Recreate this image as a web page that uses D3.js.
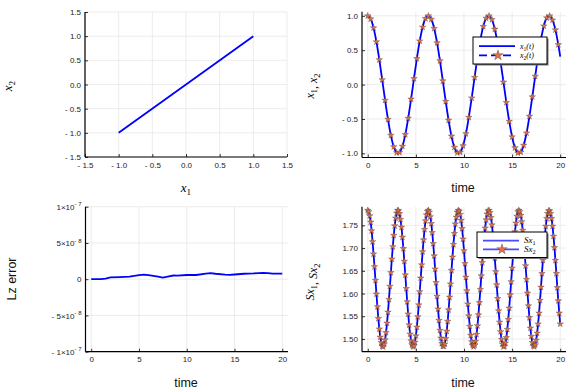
<!DOCTYPE html>
<html>
<head>
<meta charset="utf-8">
<script src="https://cdn.jsdelivr.net/npm/d3@7"></script>
<style>
  body { margin: 0; background: #fff; }
  svg text { font-family: "Liberation Sans", Arial, sans-serif; }
  .tick text { fill: #222; font-size: 8px; }
  .math { font-family: "Liberation Serif", "DejaVu Serif", serif; font-style: italic; }
</style>
</head>
<body>
<div id="chart"></div>
<script>
// ---- data ----

// top left: x2 against x1
var phaseX = [-1, 1];
var phaseY = [-1, 1];

// top right: x1(t) line and x2(t) stars (the two curves lie on top of each other)
var tX = [0, 0.3, 0.6, 0.9, 1.2, 1.5, 1.8, 2.1, 2.4, 2.7, 3.0, 3.3, 3.6, 3.9, 4.2, 4.5, 4.8, 5.1, 5.4, 5.7,
  6.0, 6.3, 6.6, 6.9, 7.2, 7.5, 7.8, 8.1, 8.4, 8.7, 9.0, 9.3, 9.6, 9.9, 10.2, 10.5, 10.8, 11.1, 11.4, 11.7,
  12.0, 12.3, 12.6, 12.9, 13.2, 13.5, 13.8, 14.1, 14.4, 14.7, 15.0, 15.3, 15.6, 15.9, 16.2, 16.5, 16.8, 17.1,
  17.4, 17.7, 18.0, 18.3, 18.6, 18.9, 19.2, 19.5, 19.8, 20];
var x1 = [1.000, 0.955, 0.825, 0.622, 0.362, 0.071, -0.227, -0.505, -0.737, -0.904,
  -0.990, -0.987, -0.897, -0.726, -0.490, -0.211, 0.087, 0.378, 0.635, 0.835,
  0.960, 1.000, 0.950, 0.816, 0.608, 0.347, 0.054, -0.244, -0.519, -0.749,
  -0.911, -0.992, -0.985, -0.889, -0.714, -0.476, -0.194, 0.104, 0.394, 0.648,
  0.844, 0.965, 0.999, 0.945, 0.806, 0.595, 0.331, 0.037, -0.260, -0.534,
  -0.760, -0.918, -0.994, -0.982, -0.882, -0.703, -0.461, -0.178, 0.121, 0.409,
  0.661, 0.853, 0.970, 0.999, 0.939, 0.796, 0.581, 0.408];
// stars stop at t = 19.8
var x2 = x1.slice(0, 67);

// bottom left: Lz error
var tLz = [0, 1, 1.5, 2, 3, 4, 5, 5.5, 6, 7, 7.5, 8, 8.6, 9, 10, 11, 12, 12.5, 13, 14, 14.5, 15, 16, 17, 18, 18.5, 19, 20];
var lzErr = [0, 0.2e-9, 0.8e-9, 2.5e-9, 3.0e-9, 3.5e-9, 5.5e-9, 6.4e-9, 5.5e-9, 3.5e-9,
  2.3e-9, 3.5e-9, 5.1e-9, 5.0e-9, 5.8e-9, 5.8e-9, 7.8e-9, 8.3e-9, 7.5e-9, 6.3e-9,
  6.0e-9, 6.5e-9, 7.5e-9, 8.0e-9, 8.8e-9, 8.5e-9, 7.8e-9, 7.8e-9];

// bottom right: Sx1 line and Sx2 stars, every 0.1 time units
var tSx = [0, 0.1, 0.2, 0.3, 0.4, 0.5, 0.6, 0.7, 0.8, 0.9, 1, 1.1, 1.2, 1.3, 1.4, 1.5, 1.6, 1.7, 1.8, 1.9,
  2, 2.1, 2.2, 2.3, 2.4, 2.5, 2.6, 2.7, 2.8, 2.9, 3, 3.1, 3.2, 3.3, 3.4, 3.5, 3.6, 3.7, 3.8, 3.9,
  4, 4.1, 4.2, 4.3, 4.4, 4.5, 4.6, 4.7, 4.8, 4.9, 5, 5.1, 5.2, 5.3, 5.4, 5.5, 5.6, 5.7, 5.8, 5.9,
  6, 6.1, 6.2, 6.3, 6.4, 6.5, 6.6, 6.7, 6.8, 6.9, 7, 7.1, 7.2, 7.3, 7.4, 7.5, 7.6, 7.7, 7.8, 7.9,
  8, 8.1, 8.2, 8.3, 8.4, 8.5, 8.6, 8.7, 8.8, 8.9, 9, 9.1, 9.2, 9.3, 9.4, 9.5, 9.6, 9.7, 9.8, 9.9,
  10, 10.1, 10.2, 10.3, 10.4, 10.5, 10.6, 10.7, 10.8, 10.9, 11, 11.1, 11.2, 11.3, 11.4, 11.5, 11.6, 11.7, 11.8, 11.9,
  12, 12.1, 12.2, 12.3, 12.4, 12.5, 12.6, 12.7, 12.8, 12.9, 13, 13.1, 13.2, 13.3, 13.4, 13.5, 13.6, 13.7, 13.8, 13.9,
  14, 14.1, 14.2, 14.3, 14.4, 14.5, 14.6, 14.7, 14.8, 14.9, 15, 15.1, 15.2, 15.3, 15.4, 15.5, 15.6, 15.7, 15.8, 15.9,
  16, 16.1, 16.2, 16.3, 16.4, 16.5, 16.6, 16.7, 16.8, 16.9, 17, 17.1, 17.2, 17.3, 17.4, 17.5, 17.6, 17.7, 17.8, 17.9,
  18, 18.1, 18.2, 18.3, 18.4, 18.5, 18.6, 18.7, 18.8, 18.9, 19, 19.1, 19.2, 19.3, 19.4, 19.5, 19.6, 19.7, 19.8, 19.9, 20];
var sx1 = [1.783, 1.780, 1.771, 1.757, 1.738, 1.714, 1.687, 1.659, 1.629, 1.599, 1.571, 1.545, 1.522, 1.504, 1.492, 1.484,
  1.483, 1.488, 1.498, 1.514, 1.535, 1.559, 1.587, 1.616, 1.646, 1.676, 1.703, 1.728, 1.749, 1.766, 1.777, 1.783,
  1.782, 1.776, 1.763, 1.746, 1.724, 1.699, 1.671, 1.641, 1.611, 1.582, 1.555, 1.531, 1.511, 1.496, 1.487, 1.483,
  1.485, 1.493, 1.507, 1.526, 1.549, 1.575, 1.604, 1.634, 1.663, 1.692, 1.718, 1.741, 1.760, 1.773, 1.781,
  1.783, 1.779, 1.769, 1.754, 1.734, 1.710, 1.683, 1.654, 1.624, 1.594, 1.566, 1.541, 1.519, 1.502, 1.490, 1.484,
  1.484, 1.489, 1.501, 1.517, 1.539, 1.564, 1.592, 1.621, 1.651, 1.680, 1.708, 1.732, 1.753, 1.768, 1.779, 1.783,
  1.781, 1.774, 1.761, 1.743, 1.720, 1.694, 1.666, 1.636, 1.606, 1.577, 1.551, 1.528, 1.508, 1.494, 1.486, 1.483,
  1.486, 1.495, 1.510, 1.529, 1.553, 1.580, 1.609, 1.639, 1.668, 1.697, 1.722, 1.744, 1.762, 1.775, 1.782,
  1.783, 1.778, 1.767, 1.751, 1.730, 1.705, 1.678, 1.648, 1.619, 1.589, 1.562, 1.537, 1.516, 1.499, 1.489, 1.483,
  1.484, 1.491, 1.503, 1.521, 1.543, 1.568, 1.597, 1.626, 1.656, 1.685, 1.712, 1.736, 1.755, 1.770, 1.780, 1.783,
  1.780, 1.772, 1.758, 1.739, 1.716, 1.690, 1.661, 1.631, 1.601, 1.573, 1.547, 1.524, 1.506, 1.492, 1.485, 1.483,
  1.487, 1.497, 1.513, 1.533, 1.557, 1.585, 1.614, 1.644, 1.673, 1.701, 1.726, 1.748, 1.765, 1.776, 1.782,
  1.782, 1.776, 1.765, 1.748, 1.726, 1.701, 1.673, 1.644, 1.613, 1.584, 1.557, 1.533];
var sx2 = sx1; // drawn exactly on top of Sx1 in the picture

// tick values
var phaseTicks = [-1.5, -1.0, -0.5, 0.0, 0.5, 1.0, 1.5];
var timeTicks = [0, 5, 10, 15, 20];
var xTicksY = [-1.0, -0.5, 0.0, 0.5, 1.0];
var lzTicks = [-1e-7, -5e-8, 0, 5e-8, 1e-7];
var sxTicks = [1.50, 1.55, 1.60, 1.65, 1.70, 1.75];

// ---- drawing ----
var width = 584, height = 389;
var blue = "#0000ff", starColor = "#e26f46";

var svg = d3.select("#chart").append("svg")
  .attr("width", width)
  .attr("height", height);

// Plots-style minus: "- 1.5"
function signed(digits) {
  return function(d) {
    var s = Math.abs(d).toFixed(digits);
    return d < 0 ? "- " + s : s;
  };
}

// one subplot: grid, ticks, spines; returns the two scales
function panel(xDom, xRng, yDom, yRng, xTicks, yTicks, xFmt, yFmt) {
  var x = d3.scaleLinear().domain(xDom).range(xRng);
  var y = d3.scaleLinear().domain(yDom).range(yRng);
  var g = svg.append("g");

  g.selectAll(".vgrid").data(xTicks).enter().append("line")
    .attr("x1", d => x(d)).attr("x2", d => x(d))
    .attr("y1", yRng[0]).attr("y2", yRng[1])
    .attr("stroke", "#e4e4e4").attr("stroke-width", 0.7);
  g.selectAll(".hgrid").data(yTicks).enter().append("line")
    .attr("x1", xRng[0]).attr("x2", xRng[1])
    .attr("y1", d => y(d)).attr("y2", d => y(d))
    .attr("stroke", "#e4e4e4").attr("stroke-width", 0.7);

  var xa = g.append("g")
    .attr("transform", "translate(0," + yRng[0] + ")")
    .call(d3.axisBottom(x).tickValues(xTicks).tickFormat(xFmt)
      .tickSizeInner(-3).tickSizeOuter(0).tickPadding(5));
  var ya = g.append("g")
    .attr("transform", "translate(" + xRng[0] + ",0)")
    .call(d3.axisLeft(y).tickValues(yTicks).tickFormat(yFmt)
      .tickSizeInner(-3).tickSizeOuter(0).tickPadding(4));
  xa.select(".domain").remove();
  ya.select(".domain").remove();
  g.selectAll(".tick line").attr("stroke", "#000").attr("stroke-width", 0.8);

  // left and bottom spines only
  g.append("line").attr("x1", xRng[0]).attr("x2", xRng[0])
    .attr("y1", yRng[0]).attr("y2", yRng[1]).attr("stroke", "#000").attr("stroke-width", 1.2);
  g.append("line").attr("x1", xRng[0]).attr("x2", xRng[1])
    .attr("y1", yRng[0]).attr("y2", yRng[0]).attr("stroke", "#000").attr("stroke-width", 1.2);

  return { x: x, y: y, g: g, yAxis: ya };
}

// italic serif label with subscripts: parts = [[text, sub], ...]
function mathLabel(x, y, rotate, size, parts) {
  var t = svg.append("text").attr("class", "math")
    .attr("transform", "translate(" + x + "," + y + ")" + (rotate ? " rotate(-90)" : ""))
    .attr("text-anchor", "middle")
    .style("font-size", size + "px");
  parts.forEach(function(p) {
    t.append("tspan").text(p[0]);
    if (p[1]) {
      t.append("tspan").attr("dy", size * 0.25).style("font-size", (size * 0.7) + "px")
        .style("font-style", "normal").text(p[1]);
      t.append("tspan").attr("dy", -size * 0.25).text("");
    }
  });
  return t;
}

function plainLabel(x, y, rotate, txt) {
  svg.append("text")
    .attr("transform", "translate(" + x + "," + y + ")" + (rotate ? " rotate(-90)" : ""))
    .attr("text-anchor", "middle")
    .style("font-size", "12.5px")
    .attr("fill", "#111")
    .text(txt);
}

var star = d3.symbol().type(d3.symbolStar);
var smooth = d3.line().curve(d3.curveCatmullRom);

function stars(p, ts, vs, size) {
  p.g.selectAll(".star").data(ts).enter().append("path")
    .attr("d", star.size(size)())
    .attr("transform", (d, i) => "translate(" + p.x(d) + "," + p.y(vs[i]) + ")")
    .attr("fill", starColor)
    .attr("stroke", "#333").attr("stroke-opacity", 0.55).attr("stroke-width", 0.6);
}

function legend(bx, by, bw, bh, entries, dashSecond) {
  var g = svg.append("g");
  g.append("rect").attr("x", bx + 1.5).attr("y", by + 1.5).attr("width", bw).attr("height", bh)
    .attr("fill", "#777");
  g.append("rect").attr("x", bx).attr("y", by).attr("width", bw).attr("height", bh)
    .attr("fill", "#fff").attr("stroke", "#000").attr("stroke-width", 1);
  entries.forEach(function(e, i) {
    var ly = by + bh * (i === 0 ? 0.34 : 0.68);
    g.append("line").attr("x1", bx + 6).attr("x2", bx + 42).attr("y1", ly).attr("y2", ly)
      .attr("stroke", e.color).attr("stroke-width", 1.8)
      .attr("stroke-dasharray", (i === 1 && dashSecond) ? "8,4" : null);
    if (i === 1) {
      g.append("path").attr("d", star.size(34)())
        .attr("transform", "translate(" + (bx + 25) + "," + ly + ")")
        .attr("fill", starColor).attr("stroke", "#333").attr("stroke-opacity", 0.55).attr("stroke-width", 0.6);
    }
    var t = g.append("text").attr("class", "math").attr("x", bx + 47).attr("y", ly + 2.8)
      .style("font-size", e.size + "px");
    t.append("tspan").text(e.base);
    t.append("tspan").attr("dy", 1.8).style("font-size", (e.size * 0.7) + "px").style("font-style", "normal").text(e.sub);
    t.append("tspan").attr("dy", -1.8).text(e.tail);
  });
}

// --- top left: phase plot ---
var p1 = panel([-1.5, 1.5], [85, 287], [-1.5, 1.5], [157, 12],
  phaseTicks, phaseTicks, signed(1), signed(1));
p1.g.append("path")
  .attr("d", d3.line().x(d => p1.x(d[0])).y(d => p1.y(d[1]))(d3.zip(phaseX, phaseY)))
  .attr("fill", "none").attr("stroke", blue).attr("stroke-width", 1.8);
mathLabel(186, 192, false, 13, [["x", "1"]]);
mathLabel(12, 86, true, 13, [["x", "2"]]);

// --- top right: x1, x2 against time ---
var p2 = panel([-0.6, 20.6], [362, 566], [-1.06, 1.06], [157.5, 11.7],
  timeTicks, xTicksY, d3.format("d"), signed(1));
p2.g.append("path")
  .attr("d", smooth.x(d => p2.x(d[0])).y(d => p2.y(d[1]))(d3.zip(tX, x1)))
  .attr("fill", "none").attr("stroke", blue).attr("stroke-width", 1.8);
stars(p2, tX.slice(0, x2.length), x2, 13);
plainLabel(463, 192, false, "time");
mathLabel(314, 86, true, 12, [["x", "1"], [", x", "2"]]);
legend(473, 37, 74, 27, [
  { color: blue, base: "x", sub: "1", tail: "(t)", size: 8 },
  { color: blue, base: "x", sub: "2", tail: "(t)", size: 8 }
], true);

// --- bottom left: Lz error ---
var p3 = panel([-0.6, 20.6], [85.5, 288], [-1e-7, 1e-7], [351.7, 206.7],
  timeTicks, lzTicks, d3.format("d"), function() { return ""; });
// y tick labels like 5×10^-8
p3.yAxis.selectAll(".tick text").each(function(d) {
  var t = d3.select(this);
  if (d === 0) { t.text("0"); return; }
  var e = Math.floor(Math.log10(Math.abs(d)) + 1e-9);
  var m = Math.round(Math.abs(d) / Math.pow(10, e));
  t.append("tspan").text((d < 0 ? "- " : "") + m + "×10");
  t.append("tspan").attr("dy", "-0.55em").style("font-size", "6px").text("- " + Math.abs(e));
});
p3.g.append("path")
  .attr("d", d3.line().x(d => p3.x(d[0])).y(d => p3.y(d[1]))(d3.zip(tLz, lzErr)))
  .attr("fill", "none").attr("stroke", blue).attr("stroke-width", 1.8);
plainLabel(186, 387, false, "time");
plainLabel(16, 279, true, "Lz error");

// --- bottom right: Sx1, Sx2 ---
var p4 = panel([-0.6, 20.6], [362, 566], [1.472, 1.791], [351.7, 206.7],
  timeTicks, sxTicks, d3.format("d"), d3.format(".2f"));
p4.g.append("path")
  .attr("d", smooth.x(d => p4.x(d[0])).y(d => p4.y(d[1]))(d3.zip(tSx, sx1)))
  .attr("fill", "none").attr("stroke", blue).attr("stroke-width", 1.8);
stars(p4, tSx, sx2, 13);
plainLabel(463, 387, false, "time");
mathLabel(314, 282, true, 12, [["Sx", "1"], [", Sx", "2"]]);
legend(477, 232, 70, 25.5, [
  { color: "#4a4aff", base: "Sx", sub: "1", tail: "", size: 9 },
  { color: "#4a4aff", base: "Sx", sub: "2", tail: "", size: 9 }
], false);
</script>
</body>
</html>
